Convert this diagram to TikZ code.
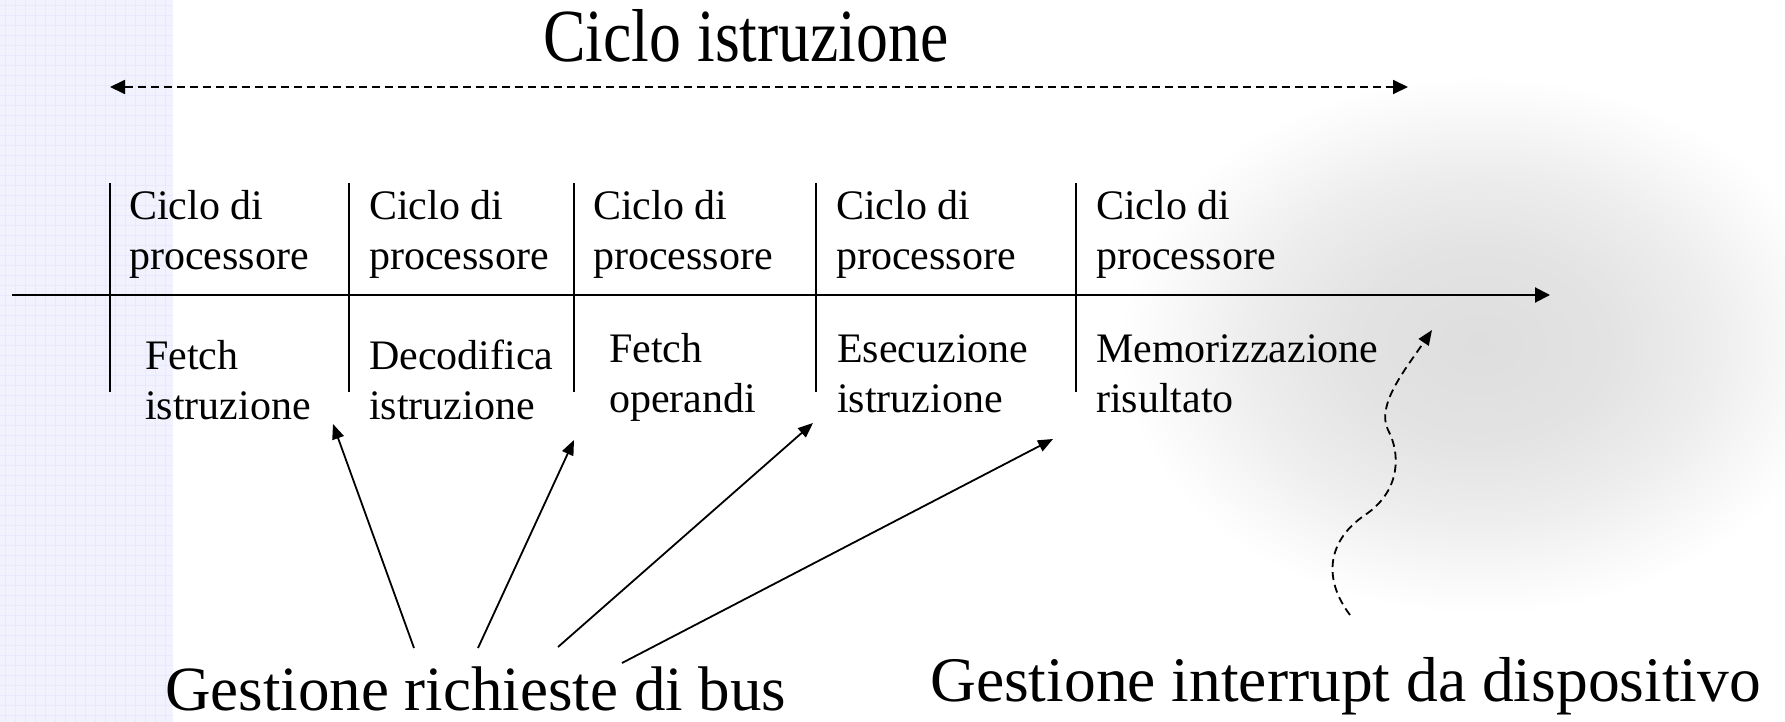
\documentclass[tikz,border=0pt]{standalone}
\usepackage{fontspec}
\setmainfont{Liberation Serif}
\usepackage{graphicx}
\usetikzlibrary{arrows.meta}
\definecolor{stripbg}{RGB}{241,242,254}
\definecolor{stripgrid}{RGB}{231,233,252}
\pgfdeclareradialshading{blob}{\pgfpoint{0bp}{0bp}}{color(0bp)=(black!13); color(9bp)=(black!11); color(16bp)=(black!7); color(21bp)=(black!3); color(25bp)=(white); color(50bp)=(white)}
\newcommand{\twolines}[2]{\begin{tabular}[t]{@{}l@{}}#1\\#2\end{tabular}}
\tikzset{
  lab/.style={anchor=base west, inner sep=0pt, font=\fontsize{42}{50}\selectfont},
  bigtext/.style={anchor=base west, inner sep=0pt, font=\fontsize{63}{75}\selectfont},
  axisline/.style={line width=2pt, -{Triangle[length=15pt,width=15pt]}},
  tickline/.style={line width=2pt},
  conn/.style={line width=1.8pt, -{Triangle[length=15pt,width=12pt]}},
  dashconn/.style={line width=1.8pt, dash pattern=on 8pt off 5pt, -{Triangle[length=15pt,width=12pt]}},
  spanarrow/.style={line width=1.8pt, dash pattern=on 8pt off 5pt, {Triangle[length=15pt,width=14pt]}-{Triangle[length=15pt,width=14pt]}}
}
\begin{document}
\begin{tikzpicture}[x=1pt, y=-1pt]
\useasboundingbox (0,0) rectangle (1785,722);
\fill[white] (0,0) rectangle (1785,722);
% left lavender grid strip
\fill[stripbg] (0,0) rectangle (173,722);
\foreach \i in {5,15,...,165} \draw[stripgrid, line width=0.7pt] (\i,0) -- (\i,722);
\foreach \j in {5,15,...,715} \draw[stripgrid, line width=0.7pt] (0,\j) -- (173,\j);
% right gray blob
\shade[shading=blob] (1480,345) ellipse [x radius=360, y radius=270];

% title and span arrow
\node[anchor=base west, inner sep=0pt] (title) at (543,62) {\scalebox{0.85}[1]{\fontsize{75}{90}\selectfont Ciclo istruzione}};
\coordinate (spanL) at (110,87);
\coordinate (spanR) at (1408,87);
\draw[spanarrow] (spanL) -- (spanR);

% time axis
\coordinate (axL) at (12,295);
\coordinate (axR) at (1550,295);
\draw[axisline] (axL) -- (axR);

% ticks
\foreach \x/\n in {110/1,349/2,574/3,816/4,1076/5}{
  \coordinate (tt\n) at (\x,183);
  \coordinate (tb\n) at (\x,392);
  \draw[tickline] (tt\n) -- (tb\n);
}

% top labels
\node[lab] (c1) at (129,219) {\twolines{Ciclo di}{processore}};
\node[lab] (c2) at (369,219) {\twolines{Ciclo di}{processore}};
\node[lab] (c3) at (593,219) {\twolines{Ciclo di}{processore}};
\node[lab] (c4) at (836,219) {\twolines{Ciclo di}{processore}};
\node[lab] (c5) at (1096,219) {\twolines{Ciclo di}{processore}};

% bottom labels
\node[lab] (p1) at (145,369) {\twolines{Fetch}{istruzione}};
\node[lab] (p2) at (369,369) {\twolines{Decodifica}{istruzione}};
\node[lab] (p3) at (609,362) {\twolines{Fetch}{operandi}};
\node[lab] (p4) at (837,362) {\twolines{Esecuzione}{istruzione}};
\node[lab] (p5) at (1096,362) {\twolines{Memorizzazione}{risultato}};

% bottom texts
\node[bigtext] (bus) at (165,710) {Gestione richieste di bus};
\node[bigtext] (irq) at (930,701) {\fontsize{63.5}{75}\selectfont Gestione interrupt da dispositivo};

% bus arrows
\coordinate (b1) at (414,648); \coordinate (e1) at (333,424);
\coordinate (b2) at (478,648); \coordinate (e2) at (574,440);
\coordinate (b3) at (558,647); \coordinate (e3) at (813,423);
\coordinate (b4) at (622,663); \coordinate (e4) at (1053,439);
\draw[conn] (b1) -- (e1);
\draw[conn] (b2) -- (e2);
\draw[conn] (b3) -- (e3);
\draw[conn] (b4) -- (e4);

% interrupt wavy arrow
\coordinate (is) at (1350,615);
\coordinate (ie) at (1432,330);
\draw[dashconn] (is) .. controls (1322,578) and (1328,540) .. (1365,515)
  .. controls (1402,490) and (1400,452) .. (1388,430)
  .. controls (1376,405) and (1405,370) .. (ie);
\end{tikzpicture}
\end{document}
